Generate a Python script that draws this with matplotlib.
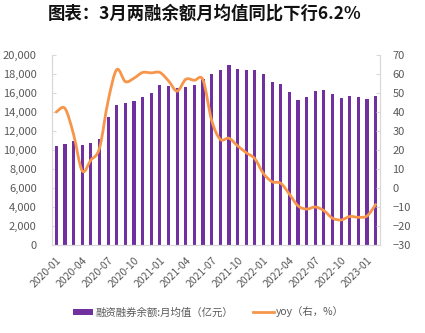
import numpy as np
import matplotlib
matplotlib.use("Agg")
import matplotlib.pyplot as plt
from matplotlib.path import Path
from matplotlib.patches import PathPatch, Patch
from matplotlib.lines import Line2D
from matplotlib.ticker import FuncFormatter, MultipleLocator

plt.rcParams['font.family'] = ['Noto Sans CJK SC', 'DejaVu Sans']

# Monthly data, 2020-01 .. 2023-02
months = pd_months = [f"{y}-{m:02d}" for y in range(2020, 2024) for m in range(1, 13)][:38]
balance = [10420, 10630, 10950, 10560, 10740, 11160, 13440, 14700, 14930, 15160,
           15550, 15970, 16840, 16700, 16560, 16600, 16840, 17440, 17970, 18470,
           18910, 18560, 18390, 18390, 17970, 17190, 16950, 16110, 15230, 15540,
           16210, 16280, 15890, 15470, 15650, 15580, 15370, 15680]
yoy = [40.0, 41.9, 28.2, 9.0, 14.7, 20.9, 45.8, 62.3, 56.0, 57.8,
       60.8, 60.6, 60.8, 56.4, 51.0, 57.2, 56.7, 56.8, 35.5, 25.6,
       26.2, 22.2, 18.6, 15.4, 7.6, 3.3, 2.5, -3.2, -9.4, -11.1,
       -10.0, -11.9, -15.9, -16.8, -15.0, -15.4, -14.7, -8.7]
tick_labels = months[::3]

title = "图表：3月两融余额月均值同比下行6.2%"
bar_label = "融资融券余额:月均值（亿元）"
line_label = "yoy（右，%）"

BAR_COLOR = "#7030A0"
LINE_COLOR = "#F7964A"
TEXT_COLOR = "#595959"
AXIS_COLOR = "#D9D9D9"

fig = plt.figure(figsize=(4.25, 3.33), dpi=100)
ax = fig.add_axes([52 / 425, 1 - 245 / 333, 328 / 425, 190 / 333])
ax2 = ax.twinx()

x = np.arange(len(months))
ax.bar(x, balance, width=0.36, color=BAR_COLOR, zorder=2)
ax.set_xlim(-0.5, len(months) - 0.5)
ax.set_ylim(0, 20000)
ax.yaxis.set_major_locator(MultipleLocator(2000))
ax.yaxis.set_major_formatter(FuncFormatter(lambda v, p: f"{int(v):,}"))

# smoothed yoy line as cubic Bezier segments (Catmull-Rom tangents)
pts = np.column_stack([x, yoy]).astype(float)
ext = np.vstack([pts[0], pts, pts[-1]])
verts = [tuple(pts[0])]
codes = [Path.MOVETO]
for i in range(len(pts) - 1):
    p0, p1, p2, p3 = ext[i], ext[i + 1], ext[i + 2], ext[i + 3]
    c1 = p1 + (p2 - p0) / 6.0
    c2 = p2 - (p3 - p1) / 6.0
    verts += [tuple(c1), tuple(c2), tuple(p2)]
    codes += [Path.CURVE4] * 3
ax2.add_patch(PathPatch(Path(verts, codes), fill=False, edgecolor=LINE_COLOR,
                        lw=2.0, capstyle='round', joinstyle='round', zorder=3))
ax2.set_ylim(-30, 70)
ax2.yaxis.set_major_locator(MultipleLocator(10))

ax.set_xticks(x[::3])
ax.set_xticklabels(tick_labels, rotation=45, ha='right', rotation_mode='anchor',
                   fontsize=7.5, color=TEXT_COLOR)
ax.tick_params(axis='x', length=0, pad=7)
ax.tick_params(axis='y', direction='in', length=3, color=AXIS_COLOR,
               labelsize=8, labelcolor=TEXT_COLOR, pad=11)
ax2.tick_params(axis='y', direction='in', length=3, color=AXIS_COLOR,
                labelsize=8, labelcolor=TEXT_COLOR, pad=9)

for a in (ax, ax2):
    a.spines['top'].set_visible(False)
    for s in ('left', 'right', 'bottom'):
        a.spines[s].set_color(AXIS_COLOR)
        a.spines[s].set_linewidth(0.8)

fig.text(205 / 425, 1 - 14 / 333, title, ha='center', va='center',
         fontsize=12.5, fontweight='bold', color='#111111')

handles = [Patch(facecolor=BAR_COLOR, edgecolor='none'),
           Line2D([0], [0], color=LINE_COLOR, lw=2)]
fig.legend(handles, [bar_label, line_label], loc='center',
           bbox_to_anchor=(0.49, 1 - 312 / 333), ncol=2, frameon=False,
           fontsize=7.5, labelcolor=TEXT_COLOR, handlelength=2.0,
           handleheight=0.5, handletextpad=0.2, columnspacing=1.9)

fig.savefig("out.png", dpi=100)
